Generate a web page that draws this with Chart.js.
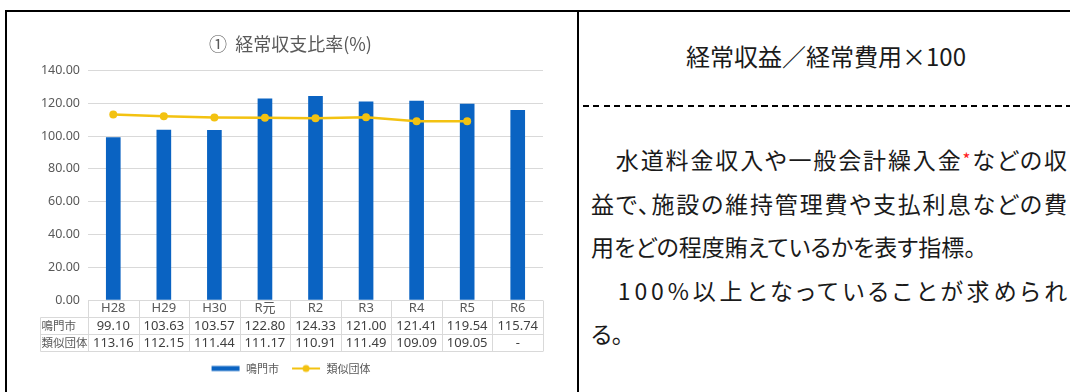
<!DOCTYPE html>
<html lang="ja">
<head>
<meta charset="utf-8">
<script src="https://cdn.jsdelivr.net/npm/chart.js@4.4.1/dist/chart.umd.min.js"></script>
<style>
  body { margin: 0; width: 1070px; height: 392px; overflow: hidden; background: #fff;
         font-family: "Noto Sans CJK JP", sans-serif; color: #1a1a1a; }
  #frame { position: absolute; left: 5px; top: 10px; width: 1090px; height: 420px;
           border: 2px solid #000; box-sizing: border-box; }
  #divider { position: absolute; left: 577px; top: 10px; width: 2px; height: 400px; background: #000; }
  #chartWrap { position: absolute; left: 7px; top: 12px; width: 570px; height: 380px; }
  #formula { position: absolute; left: 579px; width: 494px; top: 41px; text-align: center;
             font-size: 24px; line-height: 30px; }
  #dash { position: absolute; left: 583px; top: 105px; width: 500px; height: 2px;
          background: repeating-linear-gradient(to right, #000 0 6px, transparent 6px 10.5px); }
  #desc { position: absolute; left: 591px; top: 137px; width: 476px; font-size: 23px;
          line-height: 43.5px; font-feature-settings: "palt"; }
  #desc div { white-space: nowrap; }
  .note { color: #ff1a1a; font-size: 17px; vertical-align: 3px; }
</style>
</head>
<body>
<div id="frame"></div>
<div id="divider"></div>
<div id="chartWrap"><canvas id="ratio_chart"></canvas></div>
<div id="formula">経常収益／経常費用×100</div>
<div id="dash"></div>
<div id="desc">
  <div class="fill">　水道料金収入や一般会計繰入金<span class="note">*</span>などの収</div>
  <div class="fill">益で、施設の維持管理費や支払利息などの費</div>
  <div>用をどの程度賄えているかを表す指標。</div>
  <div class="fill">　100%以上となっていることが求められ</div>
  <div>る。</div>
</div>

<script>
// fiscal years
const years = ['H28', 'H29', 'H30', 'R元', 'R2', 'R3', 'R4', 'R5', 'R6'];
// 経常収支比率 (%)
const naruto = [99.10, 103.63, 103.57, 122.80, 124.33, 121.00, 121.41, 119.54, 115.74];
const ruiji = [113.16, 112.15, 111.44, 111.17, 110.91, 111.49, 109.09, 109.05, null];
const seriesNames = ['鳴門市', '類似団体'];
const yMin = 0, yMax = 140, yStep = 20;

const BLUE = '#0a63c2';
const GOLD = '#f3c211';
const GRAY_TEXT = '#595959';
const GRID = '#d9d9d9';
const FONT = '"Noto Sans", "Noto Sans CJK JP", sans-serif';
const JP_FONT = '"Noto Sans CJK JP", sans-serif';
const ROW_H = 17;

// spread wrapped lines evenly over the full column width
document.querySelectorAll('#desc .fill').forEach(el => {
  const box = el.parentNode.clientWidth;
  const span = document.createElement('span');
  span.innerHTML = el.innerHTML;
  el.innerHTML = '';
  el.appendChild(span);
  const natural = span.getBoundingClientRect().width;
  const n = Array.from(span.textContent).length;
  el.style.letterSpacing = ((box - natural) / (n - 1)) + 'px';
});

// little legend icons: thick bar for the columns, line + dot for the line
function makeIcon(kind) {
  const c = document.createElement('canvas');
  c.width = 30; c.height = 10;
  const g = c.getContext('2d');
  if (kind === 'bar') {
    g.fillStyle = BLUE;
    g.fillRect(1, 2.5, 28, 5);
  } else {
    g.strokeStyle = GOLD;
    g.lineWidth = 2;
    g.beginPath(); g.moveTo(1, 5); g.lineTo(29, 5); g.stroke();
    g.fillStyle = GOLD;
    g.beginPath(); g.arc(15, 5, 3.5, 0, Math.PI * 2); g.fill();
  }
  return c;
}
const icons = [makeIcon('bar'), makeIcon('line')];

// data table under the x axis (header row = axis labels)
const dataTable = {
  id: 'dataTable',
  afterDraw(chart) {
    const ctx = chart.ctx, x = chart.scales.x, area = chart.chartArea;
    const step = x.getPixelForValue(1) - x.getPixelForValue(0);
    const left = area.left, right = left + step * years.length;
    const top = Math.round(area.bottom) + 0.5;
    const labelLeft = 33.5;
    const rows = [naruto.map(v => v.toFixed(2)), ruiji.map(v => v == null ? '-' : v.toFixed(2))];

    ctx.save();
    ctx.strokeStyle = GRID;
    ctx.lineWidth = 1;
    ctx.beginPath();
    // horizontal rules
    ctx.moveTo(left, top); ctx.lineTo(right, top);
    for (let r = 1; r <= 3; r++) {
      ctx.moveTo(labelLeft, top + r * ROW_H); ctx.lineTo(right, top + r * ROW_H);
    }
    // verticals
    for (let i = 0; i <= years.length; i++) {
      const px = Math.round(left + i * step) + 0.5;
      ctx.moveTo(px, top); ctx.lineTo(px, top + 3 * ROW_H);
    }
    ctx.moveTo(labelLeft, top + ROW_H); ctx.lineTo(labelLeft, top + 3 * ROW_H);
    ctx.stroke();

    ctx.textBaseline = 'middle';
    rows.forEach((vals, r) => {
      const cy = top + (r + 1.5) * ROW_H;
      ctx.fillStyle = GRAY_TEXT;
      ctx.font = '11.5px ' + JP_FONT;
      ctx.textAlign = 'left';
      ctx.fillText(seriesNames[r], labelLeft + 1, cy);
      ctx.fillStyle = '#404040';
      ctx.font = '13px ' + FONT;
      ctx.textAlign = 'center';
      vals.forEach((t, i) => ctx.fillText(t, x.getPixelForValue(i), cy));
    });
    ctx.restore();
  }
};

const ctx = document.getElementById('ratio_chart').getContext('2d');
new Chart(ctx, {
  type: 'bar',
  data: {
    labels: years,
    datasets: [
      {
        type: 'line',
        label: seriesNames[1],
        data: ruiji,
        borderColor: GOLD,
        backgroundColor: GOLD,
        borderWidth: 2.5,
        pointRadius: 4,
        pointBackgroundColor: GOLD,
        pointBorderWidth: 0,
        tension: 0,
        order: 0
      },
      {
        label: seriesNames[0],
        data: naruto,
        backgroundColor: BLUE,
        barThickness: 14,
        order: 1
      }
    ]
  },
  options: {
    responsive: true,
    maintainAspectRatio: false,
    animation: false,
    layout: { padding: { left: 31, right: 34, top: 0, bottom: 8 } },
    scales: {
      x: {
        grid: { display: false, drawTicks: false },
        border: { display: false },
        ticks: { color: GRAY_TEXT, font: { size: 13, family: FONT }, padding: 0 },
        afterFit(s) { s.height = 3 * ROW_H; }
      },
      y: {
        min: yMin, max: yMax,
        grid: { color: GRID, drawTicks: false },
        border: { display: false },
        ticks: {
          stepSize: yStep, padding: 8, color: GRAY_TEXT,
          font: { size: 12.5, family: FONT },
          callback: v => v.toFixed(2)
        },
        afterFit(s) { s.width = 50; }
      }
    },
    plugins: {
      title: {
        display: true,
        text: '①  経常収支比率(%)',
        color: GRAY_TEXT,
        font: { size: 18, weight: 'normal', family: JP_FONT },
        padding: { top: 21, bottom: 16 }
      },
      legend: {
        position: 'bottom',
        reverse: true,
        labels: {
          usePointStyle: true,
          pointStyleWidth: 30,
          color: GRAY_TEXT,
          font: { size: 11, family: JP_FONT },
          padding: 12,
          generateLabels(chart) {
            const items = Chart.defaults.plugins.legend.labels.generateLabels(chart);
            items.forEach(it => { it.pointStyle = icons[it.datasetIndex === 1 ? 0 : 1]; });
            return items;
          }
        }
      },
      tooltip: { enabled: false }
    }
  },
  plugins: [dataTable]
});
</script>
</body>
</html>
